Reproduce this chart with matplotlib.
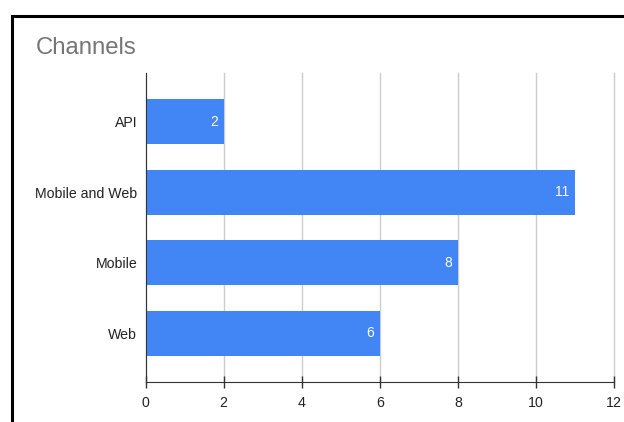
import matplotlib.pyplot as plt
from matplotlib.patches import Rectangle

# data, top to bottom as in the chart
channels = ["API", "Mobile and Web", "Mobile", "Web"]
counts = [2, 11, 8, 6]
x_ticks = [0, 2, 4, 6, 8, 10, 12]

bar_color = "#4285F4"

plt.rcParams['font.family'] = ['Liberation Sans', 'DejaVu Sans']

fig = plt.figure(figsize=(6.24, 4.22), dpi=100)
ax = fig.add_axes([0.2332, 0.0948, 0.7508, 0.7322])

ypos = list(range(len(channels)))[::-1]  # API at the top
bars = ax.barh(ypos, counts, height=0.64, color=bar_color, zorder=3)

# white value labels just inside the bar end
for y, v in zip(ypos, counts):
    ax.text(v - 0.15, y, str(v), color="white", fontsize=10,
            ha="right", va="center", zorder=4)

ax.set_xlim(0, 12)
ax.set_ylim(-0.69, 3.69)
ax.set_xticks(x_ticks)
ax.set_yticks(ypos)
ax.set_yticklabels(channels, fontsize=10.2, color="#222222")
ax.tick_params(axis="x", direction="inout", length=8, width=1, color="#333333",
               labelsize=10.2, labelcolor="#222222", pad=6)
ax.tick_params(axis="y", length=0, pad=6)

ax.grid(axis="x", color="#cccccc", linewidth=1, zorder=0)
ax.grid(axis="y", visible=False)
for line in ax.get_xgridlines():
    line.set_clip_on(False)
for s in ["top", "right"]:
    ax.spines[s].set_visible(False)
ax.spines["left"].set_color("#333333")
ax.spines["bottom"].set_color("#333333")
ax.spines["left"].set_zorder(5)

fig.text(36 / 624, 1 - 48.5 / 422, "Channels", fontsize=17.2, color="#757575",
         ha="left", va="center")

# black frame that runs off the right and bottom edges
fig.patches.append(Rectangle((12 / 624, -0.2), 1.3, 1 - 16 / 422 + 0.2,
                             transform=fig.transFigure, fill=False,
                             edgecolor="black", linewidth=2.2, clip_on=False))

plt.savefig("out.png", dpi=100)
